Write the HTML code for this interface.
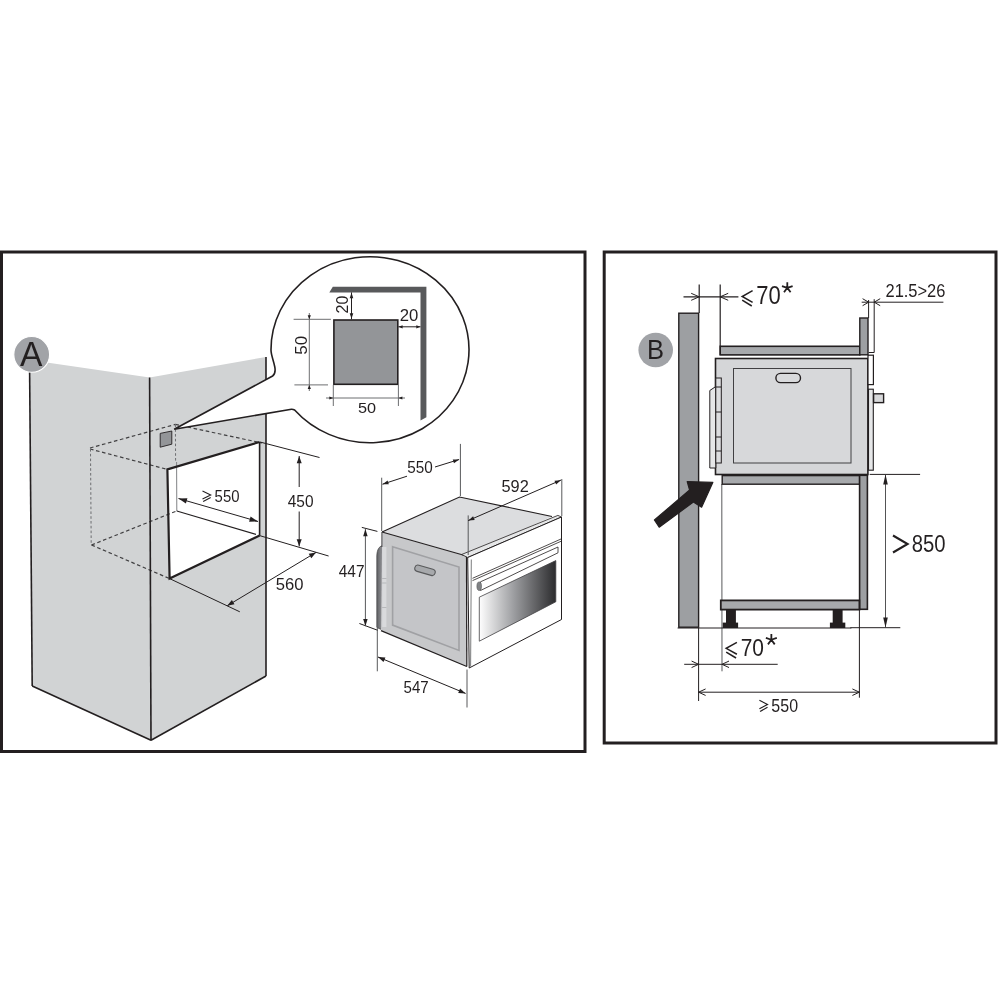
<!DOCTYPE html>
<html><head><meta charset="utf-8"><style>
html,body{margin:0;padding:0;background:#fff;}
svg{display:block;will-change:transform;}
text{font-family:"Liberation Sans",sans-serif;}
</style></head><body>
<svg width="1000" height="1000" viewBox="0 0 1000 1000">
<rect width="1000" height="1000" fill="#ffffff"/>
<polygon points="29.6,360 149.6,377.6 151,740.3 32.2,686" fill="#d1d3d4" stroke="none" stroke-width="1" stroke-linejoin="miter"/>
<polygon points="149.6,377.6 266,357 266,676 151,740.3" fill="#d1d3d4" stroke="none" stroke-width="1" stroke-linejoin="miter"/>
<polygon points="167.4,469.4 259.6,442 259.6,535.6 169.6,578.6" fill="#ffffff" stroke="none" stroke-width="1" stroke-linejoin="miter"/>
<line x1="90" y1="448" x2="175.4" y2="424.4" stroke="#414042" stroke-width="1.2" stroke-linecap="butt" stroke-dasharray="3.6 2.6"/>
<line x1="90" y1="449" x2="167.4" y2="469.4" stroke="#414042" stroke-width="1.2" stroke-linecap="butt" stroke-dasharray="3.6 2.6"/>
<line x1="90.5" y1="449" x2="91.2" y2="545" stroke="#6d6e71" stroke-width="1" stroke-linecap="butt" stroke-dasharray="2.6 2.2"/>
<line x1="175.4" y1="424.4" x2="262" y2="443" stroke="#414042" stroke-width="1.2" stroke-linecap="butt" stroke-dasharray="3.6 2.6"/>
<line x1="175.4" y1="424.4" x2="175.6" y2="462" stroke="#6d6e71" stroke-width="1" stroke-linecap="butt" stroke-dasharray="2.6 2.2"/>
<line x1="91.5" y1="545" x2="176.6" y2="511" stroke="#414042" stroke-width="1.2" stroke-linecap="butt" stroke-dasharray="3.6 2.6"/>
<line x1="91.5" y1="545" x2="169.6" y2="578.6" stroke="#414042" stroke-width="1.2" stroke-linecap="butt" stroke-dasharray="3.6 2.6"/>
<line x1="176.6" y1="462" x2="176.8" y2="511" stroke="#808285" stroke-width="1" stroke-linecap="butt"/>
<line x1="176.8" y1="511" x2="256" y2="534.4" stroke="#231f20" stroke-width="1.1" stroke-linecap="butt"/>
<line x1="29.6" y1="369" x2="32.2" y2="686" stroke="#231f20" stroke-width="1.6" stroke-linecap="butt"/>
<line x1="32.2" y1="686" x2="151" y2="740.3" stroke="#231f20" stroke-width="1.6" stroke-linecap="butt"/>
<line x1="149.6" y1="377.6" x2="151" y2="740.3" stroke="#231f20" stroke-width="1.6" stroke-linecap="butt"/>
<line x1="151" y1="740.3" x2="266" y2="676" stroke="#231f20" stroke-width="1.6" stroke-linecap="butt"/>
<line x1="266" y1="357" x2="266" y2="676" stroke="#231f20" stroke-width="1.6" stroke-linecap="butt"/>
<polyline points="259.6,442 167.4,469.4 169.6,578.6 259.6,535.6" fill="none" stroke="#231f20" stroke-width="2.2" stroke-linejoin="miter"/>
<line x1="259.6" y1="442" x2="259.6" y2="535.6" stroke="#231f20" stroke-width="1.6" stroke-linecap="butt"/>
<polygon points="160.2,433.4 171.8,431 171.8,444.2 160.2,447.2" fill="#939598" stroke="#231f20" stroke-width="0.9" stroke-linejoin="miter"/>
<circle cx="31.7" cy="354.4" r="17.9" fill="#a1a3a7" stroke="#ffffff" stroke-width="1.1"/>
<text x="0" y="0" font-size="35.9" fill="#231f20" transform="translate(20.03,365.6) scale(0.9369,1)">A</text>
<path d="M 174.2 429.2 L 272.6 376 Q 276 373.5 274.8 367 C 273.5 360 271 355 271 350 A 99 93 0 1 1 294.6 410 Q 293 409.2 291.4 409.3 L 174.2 429.2 Z" fill="#ffffff" stroke="#231f20" stroke-width="1.6" stroke-linejoin="miter"/>
<polygon points="332.8,286.8 426.4,286.8 426.4,417.2 420.5,420.4 420.5,292.4 329.3,292.4" fill="#58595b" stroke="none" stroke-width="1" stroke-linejoin="miter"/>
<rect x="333.9" y="320" width="63.9" height="64.3" rx="0" fill="#939598" stroke="#231f20" stroke-width="1.6"/>
<line x1="293.6" y1="319.3" x2="330.9" y2="319.3" stroke="#6d6e71" stroke-width="1" stroke-linecap="butt"/>
<line x1="294.4" y1="384.9" x2="328" y2="384.9" stroke="#6d6e71" stroke-width="1" stroke-linecap="butt"/>
<line x1="309.3" y1="313" x2="309.3" y2="391" stroke="#6d6e71" stroke-width="1" stroke-linecap="butt"/>
<polygon points="309.3,319.3 307.7,315.3 310.9,315.3" fill="#231f20" stroke="none" stroke-width="1" stroke-linejoin="miter"/>
<polygon points="309.3,384.9 310.9,388.9 307.7,388.9" fill="#231f20" stroke="none" stroke-width="1" stroke-linejoin="miter"/>
<line x1="333.3" y1="384.9" x2="333.3" y2="406" stroke="#6d6e71" stroke-width="1" stroke-linecap="butt"/>
<line x1="398.4" y1="384.9" x2="398.4" y2="406" stroke="#6d6e71" stroke-width="1" stroke-linecap="butt"/>
<line x1="326" y1="398" x2="405" y2="398" stroke="#6d6e71" stroke-width="1" stroke-linecap="butt"/>
<polygon points="333.3,398 329.3,399.6 329.3,396.4" fill="#231f20" stroke="none" stroke-width="1" stroke-linejoin="miter"/>
<polygon points="398.4,398 402.4,396.4 402.4,399.6" fill="#231f20" stroke="none" stroke-width="1" stroke-linejoin="miter"/>
<line x1="351.5" y1="292.4" x2="351.5" y2="319.3" stroke="#231f20" stroke-width="1" stroke-linecap="butt"/>
<polygon points="351.5,292.8 353.3,298.3 349.7,298.3" fill="#231f20" stroke="none" stroke-width="1" stroke-linejoin="miter"/>
<polygon points="351.5,318.8 349.7,313.3 353.3,313.3" fill="#231f20" stroke="none" stroke-width="1" stroke-linejoin="miter"/>
<line x1="398.4" y1="326.8" x2="420.5" y2="326.8" stroke="#231f20" stroke-width="1" stroke-linecap="butt"/>
<polygon points="398.6,326.8 402.6,325.2 402.6,328.4" fill="#231f20" stroke="none" stroke-width="1" stroke-linejoin="miter"/>
<polygon points="420.3,326.8 416.3,328.4 416.3,325.2" fill="#231f20" stroke="none" stroke-width="1" stroke-linejoin="miter"/>
<text x="0" y="0" font-size="15.25" fill="#231f20" transform="translate(357.95,413.25) scale(1.0662,1)">50</text>
<text x="0" y="0" font-size="16.38" fill="#231f20" transform="translate(306.64,354.68) rotate(-90) scale(1.0340,1)">50</text>
<text x="0" y="0" font-size="16.38" fill="#231f20" transform="translate(347.94,313.5) rotate(-90) scale(0.9785,1)">20</text>
<text x="0" y="0" font-size="16.1" fill="#231f20" transform="translate(399.76,320.84) scale(1.0381,1)">20</text>
<line x1="178.5" y1="498.5" x2="258" y2="521.5" stroke="#231f20" stroke-width="1" stroke-linecap="butt"/>
<polygon points="178.5,498.5 187.43,498.22 185.9,503.5" fill="#231f20" stroke="none" stroke-width="1" stroke-linejoin="miter"/>
<polygon points="258,521.5 249.07,521.78 250.6,516.5" fill="#231f20" stroke="none" stroke-width="1" stroke-linejoin="miter"/>
<polyline points="202.5,491.1 210.7,495.05 202.5,499" fill="none" stroke="#231f20" stroke-width="1.1" stroke-linejoin="miter"/>
<line x1="203.16" y1="501.5" x2="210.7" y2="497.55" stroke="#231f20" stroke-width="1.1" stroke-linecap="butt"/>
<text x="0" y="0" font-size="16.53" fill="#231f20" transform="translate(214.6,501.53) scale(0.9026,1)">550</text>
<line x1="260" y1="442" x2="319.5" y2="457.5" stroke="#231f20" stroke-width="1" stroke-linecap="butt"/>
<line x1="259.6" y1="535.6" x2="328.6" y2="556" stroke="#231f20" stroke-width="1" stroke-linecap="butt"/>
<line x1="299.2" y1="456" x2="299.2" y2="487" stroke="#231f20" stroke-width="1" stroke-linecap="butt"/>
<line x1="299.2" y1="511.5" x2="299.2" y2="546.4" stroke="#231f20" stroke-width="1" stroke-linecap="butt"/>
<polygon points="299.2,456.3 301.7,463.3 296.7,463.3" fill="#231f20" stroke="none" stroke-width="1" stroke-linejoin="miter"/>
<polygon points="299.2,546.2 296.7,539.2 301.7,539.2" fill="#231f20" stroke="none" stroke-width="1" stroke-linejoin="miter"/>
<text x="0" y="0" font-size="16.53" fill="#231f20" transform="translate(287.74,506.63) scale(0.9344,1)">450</text>
<line x1="169.6" y1="578.6" x2="239.8" y2="611.8" stroke="#231f20" stroke-width="1" stroke-linecap="butt"/>
<line x1="227.2" y1="605.8" x2="316" y2="552.4" stroke="#231f20" stroke-width="1" stroke-linecap="butt"/>
<polygon points="227.2,605.8 231.91,600.05 234.49,604.34" fill="#231f20" stroke="none" stroke-width="1" stroke-linejoin="miter"/>
<polygon points="316,552.4 311.29,558.15 308.71,553.86" fill="#231f20" stroke="none" stroke-width="1" stroke-linejoin="miter"/>
<text x="0" y="0" font-size="16.81" fill="#231f20" transform="translate(275.74,589.83) scale(0.9885,1)">560</text>
<defs><linearGradient id="gp" x1="376.5" y1="0" x2="382.5" y2="0" gradientUnits="userSpaceOnUse"><stop offset="0" stop-color="#5d5e61"/><stop offset="1" stop-color="#949599"/></linearGradient></defs>
<path d="M 382.2 545.8 C 379.2 546.4 377 549.5 376.8 556 L 376.8 627.4 L 382.2 630 Z" fill="url(#gp)" stroke="#414042" stroke-width="0.7"/>
<polygon points="382,532 466.5,556 466.5,666.5 381,630.6" fill="#c7c8ca" stroke="none" stroke-width="1" stroke-linejoin="miter"/>
<rect x="382.2" y="547" width="4.2" height="80" rx="0" fill="#d9dadc" stroke="none" stroke-width="1"/>
<line x1="382.2" y1="578.5" x2="386.4" y2="578.5" stroke="#a7a9ac" stroke-width="0.7" stroke-linecap="butt"/>
<line x1="382.2" y1="583" x2="386.4" y2="583" stroke="#a7a9ac" stroke-width="0.7" stroke-linecap="butt"/>
<line x1="382.2" y1="607.5" x2="386.4" y2="607.5" stroke="#a7a9ac" stroke-width="0.7" stroke-linecap="butt"/>
<polygon points="392.6,546.7 459,567 459,650.4 392.6,625.1" fill="#c4c5c8" stroke="#a0a1a4" stroke-width="1.6" stroke-linejoin="miter"/>
<rect x="-10.5" y="-3.2" width="21" height="6.4" rx="3.2" fill="#a7a9ac" stroke="#58595b" stroke-width="1.1" transform="translate(425,570.3) rotate(16)"/>
<polygon points="382,532 459.5,497 552,516.5 466.5,556" fill="#dcdddf" stroke="none" stroke-width="1" stroke-linejoin="miter"/>
<polyline points="382,532 459.5,497 552,516.5" fill="none" stroke="#231f20" stroke-width="1.1" stroke-linejoin="miter"/>
<line x1="382" y1="532" x2="466.5" y2="556" stroke="#231f20" stroke-width="1.2" stroke-linecap="butt"/>
<line x1="381.9" y1="532" x2="381.9" y2="547" stroke="#414042" stroke-width="1" stroke-linecap="butt"/>
<line x1="466.5" y1="556" x2="466.8" y2="666.5" stroke="#231f20" stroke-width="1.2" stroke-linecap="butt"/>
<line x1="381" y1="630.6" x2="466.8" y2="666.5" stroke="#231f20" stroke-width="1.2" stroke-linecap="butt"/>
<polygon points="461.6,554.5 557.9,515.4 561.5,517 467.7,557.5" fill="#e6e7e8" stroke="#231f20" stroke-width="0.8" stroke-linejoin="miter"/>
<polygon points="467.7,557.5 561.5,517 561.5,619.5 469.2,668" fill="#ffffff" stroke="#231f20" stroke-width="1" stroke-linejoin="miter"/>
<line x1="471.3" y1="559.5" x2="470.6" y2="666.5" stroke="#58595b" stroke-width="0.8" stroke-linecap="butt"/>
<line x1="472.5" y1="578.3" x2="561" y2="539" stroke="#231f20" stroke-width="0.8" stroke-linecap="butt"/>
<line x1="472.5" y1="580.6" x2="561" y2="541.3" stroke="#231f20" stroke-width="0.8" stroke-linecap="butt"/>
<polygon points="480.5,581.8 558,547 558,552.8 480.5,590.5" fill="#ffffff" stroke="#231f20" stroke-width="0.8" stroke-linejoin="miter"/>
<ellipse cx="479.2" cy="586.2" rx="2.3" ry="4.3" fill="#808285" stroke="#58595b" stroke-width="0.6"/>
<defs><linearGradient id="gw" x1="479" y1="0" x2="556" y2="0" gradientUnits="userSpaceOnUse"><stop offset="0" stop-color="#ffffff"/><stop offset="0.45" stop-color="#9d9ea1"/><stop offset="1" stop-color="#2b2b2d"/></linearGradient></defs>
<polygon points="479.3,597.2 555.8,560.6 555.8,601.8 479.3,641.2" fill="url(#gw)" stroke="#414042" stroke-width="0.8" stroke-linejoin="miter"/>
<line x1="381.7" y1="477.7" x2="381.7" y2="531" stroke="#58595b" stroke-width="1" stroke-linecap="butt"/>
<line x1="460.4" y1="443.9" x2="460.4" y2="496" stroke="#58595b" stroke-width="1" stroke-linecap="butt"/>
<line x1="382.5" y1="484.2" x2="407" y2="476.2" stroke="#231f20" stroke-width="1" stroke-linecap="butt"/>
<line x1="435" y1="467" x2="459.1" y2="459.5" stroke="#231f20" stroke-width="1" stroke-linecap="butt"/>
<polygon points="382.5,484.2 387.59,480.44 388.82,484.24" fill="#231f20" stroke="none" stroke-width="1" stroke-linejoin="miter"/>
<polygon points="459.1,459.5 453.98,463.21 452.78,459.39" fill="#231f20" stroke="none" stroke-width="1" stroke-linejoin="miter"/>
<text x="0" y="0" font-size="16.53" fill="#231f20" transform="translate(407.19,473.43) scale(0.9254,1)">550</text>
<line x1="468.2" y1="515.4" x2="468.2" y2="555" stroke="#58595b" stroke-width="1" stroke-linecap="butt"/>
<line x1="561.8" y1="479" x2="561.8" y2="516" stroke="#58595b" stroke-width="1" stroke-linecap="butt"/>
<line x1="468.2" y1="520.6" x2="561" y2="480.1" stroke="#231f20" stroke-width="1" stroke-linecap="butt"/>
<polygon points="468.4,520.5 473.09,516.25 474.7,519.92" fill="#231f20" stroke="none" stroke-width="1" stroke-linejoin="miter"/>
<polygon points="560.8,480.2 556.09,484.42 554.5,480.75" fill="#231f20" stroke="none" stroke-width="1" stroke-linejoin="miter"/>
<text x="0" y="0" font-size="16.53" fill="#231f20" transform="translate(501.45,491.63) scale(0.9894,1)">592</text>
<line x1="361.8" y1="527.4" x2="377.4" y2="531.4" stroke="#231f20" stroke-width="1" stroke-linecap="butt"/>
<line x1="359.4" y1="623.5" x2="378" y2="630.4" stroke="#231f20" stroke-width="1" stroke-linecap="butt"/>
<line x1="365.4" y1="529" x2="365.4" y2="626.2" stroke="#58595b" stroke-width="1" stroke-linecap="butt"/>
<polygon points="365.4,529.2 367.65,536.2 363.15,536.2" fill="#231f20" stroke="none" stroke-width="1" stroke-linejoin="miter"/>
<polygon points="365.4,626 363.15,619 367.65,619" fill="#231f20" stroke="none" stroke-width="1" stroke-linejoin="miter"/>
<text x="0" y="0" font-size="15.99" fill="#231f20" transform="translate(338.75,576.8) scale(0.9647,1)">447</text>
<line x1="377.3" y1="628" x2="377.3" y2="671.3" stroke="#58595b" stroke-width="1" stroke-linecap="butt"/>
<line x1="467" y1="669.5" x2="467" y2="707.5" stroke="#58595b" stroke-width="1" stroke-linecap="butt"/>
<line x1="378" y1="657" x2="465.6" y2="693.4" stroke="#231f20" stroke-width="1" stroke-linecap="butt"/>
<polygon points="378,657 385.42,657.38 383.5,661.99" fill="#231f20" stroke="none" stroke-width="1" stroke-linejoin="miter"/>
<polygon points="465.6,693.4 458.18,693.02 460.1,688.41" fill="#231f20" stroke="none" stroke-width="1" stroke-linejoin="miter"/>
<text x="0" y="0" font-size="15.76" fill="#231f20" transform="translate(403.5,692.64) scale(0.9570,1)">547</text>
<rect x="678.8" y="313.2" width="19.8" height="314" rx="0" fill="#9d9fa2" stroke="#231f20" stroke-width="1.4"/>
<circle cx="655.7" cy="350" r="17.3" fill="#a1a3a7"/>
<text x="0" y="0" font-size="26.89" fill="#231f20" transform="translate(647.1,358.6) scale(0.9507,1)">B</text>
<line x1="699.2" y1="284.5" x2="699.2" y2="313" stroke="#231f20" stroke-width="1.2" stroke-linecap="butt"/>
<line x1="720.2" y1="284.5" x2="720.2" y2="355" stroke="#231f20" stroke-width="1.2" stroke-linecap="butt"/>
<line x1="683.5" y1="296.8" x2="738.4" y2="296.8" stroke="#231f20" stroke-width="1.2" stroke-linecap="butt"/>
<polyline points="691.2,300.3 699.2,296.8 691.2,293.3" fill="none" stroke="#231f20" stroke-width="1" stroke-linejoin="miter"/>
<polyline points="728.2,293.3 720.2,296.8 728.2,300.3" fill="none" stroke="#231f20" stroke-width="1" stroke-linejoin="miter"/>
<polyline points="752.6,290.7 742.2,296.51 752.6,302.33" fill="none" stroke="#231f20" stroke-width="1.5" stroke-linejoin="miter"/>
<line x1="751.77" y1="306" x2="742.2" y2="300.19" stroke="#231f20" stroke-width="1.5" stroke-linecap="butt"/>
<text x="0" y="0" font-size="24.86" fill="#231f20" transform="translate(756.28,304.45) scale(0.8856,1)">70</text>
<path d="M 787.3 287.8 L 787.3 282.2 M 787.3 287.8 L 792.63 286.07 M 787.3 287.8 L 790.59 292.33 M 787.3 287.8 L 784.01 292.33 M 787.3 287.8 L 781.97 286.07 " stroke="#231f20" stroke-width="1.8" stroke-linecap="butt" fill="none"/>
<rect x="720.2" y="346.3" width="139.6" height="8.6" rx="0" fill="#a7a9ac" stroke="#231f20" stroke-width="1.6"/>
<rect x="859.8" y="318" width="8.2" height="36.8" rx="0" fill="#9d9fa2" stroke="#231f20" stroke-width="1.4"/>
<line x1="868.6" y1="300" x2="868.6" y2="318" stroke="#231f20" stroke-width="1" stroke-linecap="butt"/>
<line x1="874.2" y1="299.2" x2="874.2" y2="352.5" stroke="#231f20" stroke-width="1" stroke-linecap="butt"/>
<line x1="868.6" y1="352.5" x2="874.2" y2="352.5" stroke="#231f20" stroke-width="1" stroke-linecap="butt"/>
<line x1="861.7" y1="302.2" x2="943.4" y2="302.2" stroke="#231f20" stroke-width="1" stroke-linecap="butt"/>
<polyline points="862.6,305.7 868.6,302.2 862.6,298.7" fill="none" stroke="#231f20" stroke-width="1" stroke-linejoin="miter"/>
<polyline points="880.2,298.7 874.2,302.2 880.2,305.7" fill="none" stroke="#231f20" stroke-width="1" stroke-linejoin="miter"/>
<text x="0" y="0" font-size="18.36" fill="#231f20" transform="translate(885.48,297.42) scale(0.8964,1)">21.5&gt;26</text>
<rect x="715.5" y="358.5" width="152.4" height="116" rx="0" fill="#d5d6d8" stroke="#231f20" stroke-width="1.6"/>
<rect x="733.5" y="368.5" width="117.5" height="94.5" rx="0" fill="#d7d8da" stroke="#414042" stroke-width="1"/>
<rect x="775.9" y="373.4" width="24.6" height="9.2" rx="4.6" fill="#d9dadc" stroke="#231f20" stroke-width="1.4"/>
<polygon points="709.8,390.5 715.8,386.5 715.8,468 709.8,468" fill="#e6e7e8" stroke="#231f20" stroke-width="1" stroke-linejoin="miter"/>
<rect x="715.8" y="378" width="5.5" height="85" rx="0" fill="#dcdddf" stroke="#231f20" stroke-width="1"/>
<line x1="715.8" y1="387" x2="721.3" y2="387" stroke="#231f20" stroke-width="1" stroke-linecap="butt"/>
<line x1="715.8" y1="412" x2="721.3" y2="412" stroke="#231f20" stroke-width="1" stroke-linecap="butt"/>
<line x1="715.8" y1="437" x2="721.3" y2="437" stroke="#231f20" stroke-width="1" stroke-linecap="butt"/>
<line x1="715.8" y1="451" x2="721.3" y2="451" stroke="#231f20" stroke-width="1" stroke-linecap="butt"/>
<rect x="868" y="355.2" width="5.4" height="29.4" rx="0" fill="#ffffff" stroke="#231f20" stroke-width="1.2"/>
<rect x="868.5" y="389.2" width="4.8" height="81" rx="0" fill="#e6e7e8" stroke="#231f20" stroke-width="1.1"/>
<rect x="873.6" y="393.8" width="10" height="8.8" rx="0" fill="#d7d8da" stroke="#231f20" stroke-width="1.4"/>
<line x1="721.8" y1="484" x2="722" y2="671.3" stroke="#58595b" stroke-width="1" stroke-linecap="butt"/>
<rect x="722.2" y="475.6" width="137.4" height="8.6" rx="0" fill="#a7a9ac" stroke="#231f20" stroke-width="1.4"/>
<rect x="859.6" y="475.3" width="7.8" height="134" rx="0" fill="#9d9fa2" stroke="#231f20" stroke-width="1.6"/>
<rect x="720.8" y="600.4" width="138.6" height="9.2" rx="0" fill="#a7a9ac" stroke="#231f20" stroke-width="1.8"/>
<rect x="726" y="609.7" width="9.9" height="13.5" rx="0" fill="#231f20" stroke="none" stroke-width="1"/>
<rect x="722.7" y="622.6" width="15.4" height="5.4" rx="0" fill="#231f20" stroke="none" stroke-width="1"/>
<rect x="832.7" y="609.7" width="9.9" height="13.5" rx="0" fill="#231f20" stroke="none" stroke-width="1"/>
<rect x="829.9" y="622.6" width="15.4" height="5.4" rx="0" fill="#231f20" stroke="none" stroke-width="1"/>
<line x1="677.6" y1="628" x2="851.4" y2="628" stroke="#231f20" stroke-width="1" stroke-linecap="butt"/>
<line x1="850.3" y1="627.7" x2="900.3" y2="627.7" stroke="#231f20" stroke-width="1" stroke-linecap="butt"/>
<line x1="869.7" y1="474.4" x2="920.1" y2="474.4" stroke="#231f20" stroke-width="1" stroke-linecap="butt"/>
<line x1="885.5" y1="474.4" x2="885.5" y2="627.7" stroke="#414042" stroke-width="0.9" stroke-linecap="butt"/>
<polygon points="885.5,474.6 887.8,484.6 883.2,484.6" fill="#231f20" stroke="none" stroke-width="1" stroke-linejoin="miter"/>
<polygon points="885.5,627.5 883.2,617.5 887.8,617.5" fill="#231f20" stroke="none" stroke-width="1" stroke-linejoin="miter"/>
<text x="0" y="0" font-size="23.87" fill="#231f20" transform="translate(911.73,552.06) scale(0.8505,1)">850</text>
<polyline points="893,535.5 907.6,544 893,552.5" fill="none" stroke="#231f20" stroke-width="2.1" stroke-linejoin="miter"/>
<line x1="698.6" y1="628" x2="698.6" y2="701" stroke="#231f20" stroke-width="1" stroke-linecap="butt"/>
<line x1="859.4" y1="609.7" x2="859.4" y2="697.7" stroke="#231f20" stroke-width="1" stroke-linecap="butt"/>
<line x1="684.2" y1="664.3" x2="777.7" y2="664.3" stroke="#231f20" stroke-width="1" stroke-linecap="butt"/>
<polyline points="691.6,667.55 698.6,664.3 691.6,661.05" fill="none" stroke="#231f20" stroke-width="1" stroke-linejoin="miter"/>
<polyline points="729,661.05 722,664.3 729,667.55" fill="none" stroke="#231f20" stroke-width="1" stroke-linejoin="miter"/>
<polyline points="736.9,642.4 726.2,648.33 736.9,654.26" fill="none" stroke="#231f20" stroke-width="1.5" stroke-linejoin="miter"/>
<line x1="736.04" y1="658" x2="726.2" y2="652.07" stroke="#231f20" stroke-width="1.5" stroke-linecap="butt"/>
<text x="0" y="0" font-size="24.72" fill="#231f20" transform="translate(740.73,656.45) scale(0.8471,1)">70</text>
<path d="M 771.35 639.75 L 771.35 634 M 771.35 639.75 L 776.82 637.97 M 771.35 639.75 L 774.73 644.4 M 771.35 639.75 L 767.97 644.4 M 771.35 639.75 L 765.88 637.97 " stroke="#231f20" stroke-width="1.8" stroke-linecap="butt" fill="none"/>
<line x1="698.6" y1="692.2" x2="859.4" y2="692.2" stroke="#231f20" stroke-width="1" stroke-linecap="butt"/>
<polyline points="705.6,688.95 698.6,692.2 705.6,695.45" fill="none" stroke="#231f20" stroke-width="1" stroke-linejoin="miter"/>
<polyline points="852.4,695.45 859.4,692.2 852.4,688.95" fill="none" stroke="#231f20" stroke-width="1" stroke-linejoin="miter"/>
<polyline points="759.4,700.2 767.5,704.49 759.4,708.79" fill="none" stroke="#231f20" stroke-width="1.2" stroke-linejoin="miter"/>
<line x1="760.05" y1="711.5" x2="767.5" y2="707.21" stroke="#231f20" stroke-width="1.2" stroke-linecap="butt"/>
<text x="0" y="0" font-size="18.22" fill="#231f20" transform="translate(771.36,711.52) scale(0.8773,1)">550</text>
<path d="M 654.4 520 L 659.2 527.2 L 693.4 502 L 701.6 507.2 L 712.8 482.4 L 687.2 481.6 L 689.6 490 L 654.4 520 Z" fill="#231f20" stroke="#231f20" stroke-width="1.2" stroke-linejoin="round"/>
<rect x="1.5" y="252" width="583.5" height="499.5" rx="0" fill="none" stroke="#231f20" stroke-width="3"/>
<rect x="604.2" y="252" width="391.8" height="491" rx="0" fill="none" stroke="#231f20" stroke-width="3"/>
</svg>
</body></html>
